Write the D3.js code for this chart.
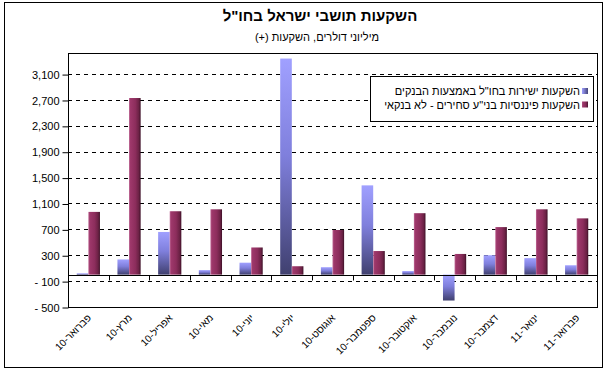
<!DOCTYPE html>
<html>
<head>
<meta charset="utf-8">
<script src="https://cdn.jsdelivr.net/npm/d3@7"></script>
<style>
  body { margin: 0; background: #fff; }
  text { font-family: "Liberation Sans", Arial, "DejaVu Sans", sans-serif; }
</style>
</head>
<body>
<svg id="chart" width="611" height="375"></svg>
<script>
var months = ["פברואר-10", "מרץ-10", "אפריל-10", "מאי-10", "יוני-10", "יולי-10", "אוגוסט-10",
    "ספטמבר-10", "אוקטובר-10", "נובמבר-10", "דצמבר-10", "ינואר-11", "פברואר-11"];
var bankInvest = [20, 235, 660, 70, 185, 3340, 115, 1380, 55, -400, 300, 255, 145];
var securitiesInvest = [970, 2730, 980, 1010, 420, 130, 690, 365, 950, 320, 735, 1010, 870];
var yTicks = [-500, -100, 300, 700, 1100, 1500, 1900, 2300, 2700, 3100];
var seriesNames = ["השקעות ישירות בחו\"ל באמצעות הבנקים", "השקעות פיננסיות בני\"ע סחירים - לא בנקאי"];
var titleText = "השקעות תושבי ישראל בחו\"ל";
var subtitleText = "מיליוני דולרים, השקעות (+)";

var svg = d3.select("#chart");
var plot = { left: 68, right: 597, top: 53, bottom: 307 };

var defs = svg.append("defs");
var g1 = defs.append("linearGradient").attr("id", "gBlue")
    .attr("x1", 0).attr("y1", 0).attr("x2", 0).attr("y2", 1);
g1.append("stop").attr("offset", 0).attr("stop-color", "#a0a0ff");
g1.append("stop").attr("offset", 0.45).attr("stop-color", "#7f7fdc");
g1.append("stop").attr("offset", 1).attr("stop-color", "#40406f");

var g2 = defs.append("linearGradient").attr("id", "gRed")
    .attr("x1", 0).attr("y1", 0).attr("x2", 1).attr("y2", 0);
g2.append("stop").attr("offset", 0).attr("stop-color", "#c06c98");
g2.append("stop").attr("offset", 0.12).attr("stop-color", "#9e386b");
g2.append("stop").attr("offset", 0.55).attr("stop-color", "#8c2d5c");
g2.append("stop").attr("offset", 0.85).attr("stop-color", "#6a2144");
g2.append("stop").attr("offset", 1).attr("stop-color", "#3c0f26");

var g3 = defs.append("linearGradient").attr("id", "gBlueLeg")
    .attr("x1", 0).attr("y1", 0).attr("x2", 1).attr("y2", 0);
g3.append("stop").attr("offset", 0).attr("stop-color", "#a0a0ff");
g3.append("stop").attr("offset", 1).attr("stop-color", "#45457a");

// outer border
svg.append("rect")
    .attr("x", 4.5).attr("y", 2.5).attr("width", 598).attr("height", 365)
    .attr("fill", "none").attr("stroke", "#000").attr("stroke-width", 1);

svg.append("text")
    .attr("x", 320).attr("y", 21)
    .attr("text-anchor", "middle")
    .attr("direction", "rtl")
    .attr("font-size", "15px").attr("font-weight", "bold")
    .text(titleText);

svg.append("text")
    .attr("x", 317).attr("y", 41)
    .attr("text-anchor", "middle")
    .attr("direction", "rtl")
    .attr("font-size", "11px")
    .text(subtitleText);

var x = d3.scaleBand()
    .domain(months)
    .range([plot.left, plot.right]);

var y = d3.scaleLinear()
    .domain([-500, 3426])
    .range([plot.bottom, plot.top]);

// gridlines
svg.append("g").selectAll("line")
    .data(yTicks.filter(function(d) { return d !== -500; }))
    .enter().append("line")
    .attr("x1", plot.left).attr("x2", plot.right)
    .attr("y1", function(d) { return Math.round(y(d)) + 0.5; })
    .attr("y2", function(d) { return Math.round(y(d)) + 0.5; })
    .attr("stroke", "#000")
    .attr("stroke-dasharray", "4,4");

// plot frame
svg.append("rect")
    .attr("x", plot.left + 0.5).attr("y", plot.top + 0.5)
    .attr("width", plot.right - plot.left).attr("height", plot.bottom - plot.top)
    .attr("fill", "none").attr("stroke", "#000");

var barW = x.bandwidth() * 0.285;
var series = [
    { values: bankInvest, fill: "url(#gBlue)", offset: -1 },
    { values: securitiesInvest, fill: "url(#gRed)", offset: 0 }
];

series.forEach(function(s) {
    svg.append("g").selectAll("rect")
        .data(s.values)
        .enter().append("rect")
        .attr("x", function(d, i) { return x(months[i]) + x.bandwidth() / 2 + s.offset * barW; })
        .attr("width", barW)
        .attr("y", function(d) { return y(Math.max(0, d)); })
        .attr("height", function(d) { return Math.abs(y(d) - y(0)); })
        .attr("fill", s.fill);
});

// zero baseline with category ticks
var base = Math.round(y(0)) + 0.5;
svg.append("line")
    .attr("x1", plot.left).attr("x2", plot.right)
    .attr("y1", base).attr("y2", base)
    .attr("stroke", "#000");

svg.append("g").selectAll("line")
    .data(months.slice(1))
    .enter().append("line")
    .attr("x1", function(d) { return Math.round(x(d)) + 0.5; })
    .attr("x2", function(d) { return Math.round(x(d)) + 0.5; })
    .attr("y1", base).attr("y2", base + 5)
    .attr("stroke", "#000");

// y axis
var yAxis = d3.axisLeft(y)
    .tickValues(yTicks)
    .tickSize(6)
    .tickPadding(3)
    .tickFormat(function(d) { return d3.format(",")(d).replace("−", "- "); });

var yG = svg.append("g")
    .attr("transform", "translate(" + (plot.left + 0.5) + ",0.5)")
    .call(yAxis);
yG.select(".domain").remove();
yG.selectAll("text").attr("font-size", "11px").attr("fill", "#000")
    .attr("font-family", "\"Liberation Sans\", Arial, sans-serif");

// category labels
svg.append("g").selectAll("text")
    .data(months)
    .enter().append("text")
    .attr("transform", function(d) {
        return "translate(" + (x(d) + x.bandwidth() / 2 + 1) + "," + 316 + ") rotate(-45)";
    })
    .attr("text-anchor", "end")
    .attr("dy", "0.35em")
    .attr("font-size", "10px")
    .text(function(d) { return d; });

// legend
var leg = svg.append("g");
leg.append("rect")
    .attr("x", 370.5).attr("y", 76.5).attr("width", 223).attr("height", 45)
    .attr("fill", "#fff").attr("stroke", "#000");

var legFills = ["url(#gBlueLeg)", "url(#gRed)"];
var legY = [95, 108.5];
seriesNames.forEach(function(name, i) {
    leg.append("rect")
        .attr("x", 582).attr("y", legY[i] - 7).attr("width", 6).attr("height", 6)
        .attr("fill", legFills[i]);
    leg.append("text")
        .attr("x", 580).attr("y", legY[i])
        .attr("text-anchor", "end")
        .attr("font-size", "11px")
        .text(name);
});
</script>
</body>
</html>
